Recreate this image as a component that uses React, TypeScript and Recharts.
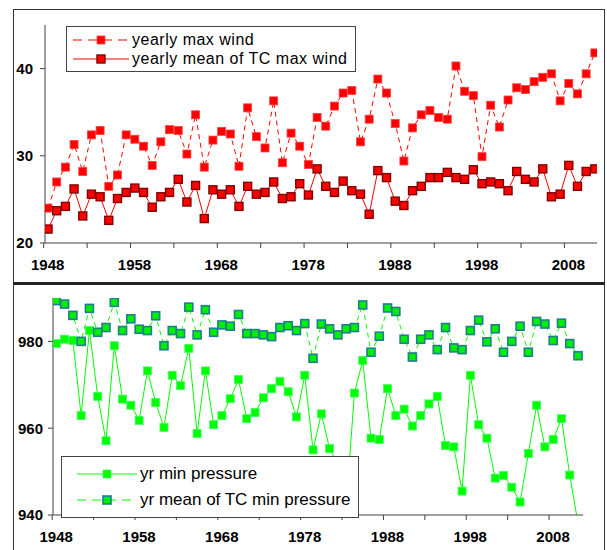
import {Legend, Line, LineChart, XAxis, YAxis} from 'recharts';

const years = [
  1948, 1949, 1950, 1951, 1952, 1953, 1954, 1955, 1956, 1957,
  1958, 1959, 1960, 1961, 1962, 1963, 1964, 1965, 1966, 1967,
  1968, 1969, 1970, 1971, 1972, 1973, 1974, 1975, 1976, 1977,
  1978, 1979, 1980, 1981, 1982, 1983, 1984, 1985, 1986, 1987,
  1988, 1989, 1990, 1991, 1992, 1993, 1994, 1995, 1996, 1997,
  1998, 1999, 2000, 2001, 2002, 2003, 2004, 2005, 2006, 2007,
  2008, 2009, 2010, 2011,
];

const maxWind = [
  24.0, 27.0, 28.7, 31.3, 28.2, 32.4, 32.9, 26.5, 27.8, 32.4,
  31.9, 31.1, 28.9, 31.6, 33.0, 32.9, 30.2, 34.7, 28.7, 31.8,
  32.8, 32.5, 28.8, 35.5, 32.2, 30.9, 36.3, 29.2, 32.6, 31.1,
  29.0, 34.4, 33.4, 35.7, 37.2, 37.5, 31.6, 34.2, 38.8, 37.2,
  33.7, 29.4, 33.2, 34.7, 35.2, 34.4, 34.2, 40.3, 37.4, 36.9,
  29.9, 35.8, 33.3, 36.4, 37.8, 37.6, 38.5, 39.0, 39.4, 36.3,
  38.3, 37.1, 39.4, 41.8,
];

const meanWind = [
  21.6, 23.7, 24.2, 26.2, 23.1, 25.6, 25.3, 22.6, 25.1, 25.8,
  26.3, 25.8, 24.1, 25.3, 25.8, 27.3, 24.7, 26.6, 22.8, 26.1,
  25.6, 26.1, 24.2, 26.5, 25.6, 25.8, 27.0, 25.1, 25.3, 26.8,
  25.5, 28.5, 26.5, 25.8, 27.1, 26.0, 25.6, 23.3, 28.3, 27.5,
  24.8, 24.3, 26.0, 26.5, 27.5, 27.5, 28.1, 27.5, 27.3, 28.4,
  26.8, 27.0, 26.8, 26.0, 28.2, 27.3, 27.0, 28.5, 25.3, 25.6,
  28.9, 26.5, 28.2, 28.5,
];

const minPressure = [
  979.5, 980.5, 980.2, 962.9, 982.5, 967.3, 957.1, 979.0, 966.7, 965.3,
  961.8, 973.2, 965.9, 960.2, 972.2, 969.8, 978.4, 958.8, 973.2, 960.8,
  962.9, 966.8, 971.2, 962.2, 963.6, 967.0, 969.1, 970.8, 968.4, 962.6,
  972.2, 955.0, 963.3, 955.3, 951.5, 942.0, 968.1, 975.6, 957.7, 957.4,
  969.1, 962.9, 964.4, 960.5, 962.9, 965.6, 967.3, 956.0, 955.7, 945.5,
  972.2, 960.8, 957.7, 948.5, 949.1, 946.4, 943.0, 954.2, 965.3, 955.7,
  957.4, 962.2, 949.2, 938.0,
];

const meanPressure = [
  989.4, 988.6, 986.0, 980.0, 987.6, 982.1, 983.2, 989.0, 982.5, 985.2,
  982.8, 982.5, 985.9, 979.0, 982.5, 981.8, 987.9, 981.5, 987.3, 982.1,
  983.8, 983.5, 986.2, 981.8, 981.8, 981.5, 981.1, 983.2, 983.6, 982.5,
  984.1, 976.1, 984.0, 982.9, 981.5, 982.9, 983.2, 988.4, 977.5, 981.2,
  987.7, 986.9, 980.5, 976.4, 980.5, 981.5, 978.1, 983.2, 978.5, 978.1,
  982.5, 984.9, 979.9, 982.9, 977.5, 980.0, 983.5, 977.5, 984.6, 984.0,
  980.2, 984.2, 979.5, 976.7,
];

const yearLabels = [1948, 1958, 1968, 1978, 1988, 1998, 2008];
const yearTickMarks = [1947.5, 1952.5, 1957.5, 1962.5, 1967.5, 1972.5, 1977.5, 1982.5, 1987.5, 1992.5, 1997.5, 2002.5, 2007.5];
const windTicks = [20, 30, 40];
const pressureTicks = [940, 960, 980];

const windRows = years.map((year, i) => ({year, maxWind: maxWind[i], meanWind: meanWind[i]}));
const pressureRows = years.map((year, i) => ({year, minPressure: minPressure[i], meanPressure: meanPressure[i]}));

const font = '"Liberation Sans", Arial, sans-serif';
const axisColor = '#404040';

function square(fill: string, stroke: string, strokeWidth: number) {
  return (props: any) => {
    const {cx, cy, index} = props;
    if (cx == null || cy == null) return <g key={index} />;
    return (
      <rect key={index} x={cx - 4} y={cy - 4} width={8} height={8}
            fill={fill} stroke={stroke} strokeWidth={strokeWidth} />
    );
  };
}

function YearTick(props: any) {
  const {x, y, payload} = props;
  const label = payload.value + 0.5;
  if (!yearLabels.includes(label)) return <g />;
  return (
    <text x={x + 4} y={y} dy={20} textAnchor="middle" fontFamily={font}
          fontSize={15} fontWeight="bold" fill="#000">
      {label}
    </text>
  );
}

interface LegendItem {
  label: string;
  color: string;
  dashed: boolean;
  fill: string;
  stroke: string;
  strokeWidth: number;
}

interface LegendBoxProps {
  items: LegendItem[];
  rowHeight: number;
  sampleWidth: number;
  padLeft: number;
  fontSize: number;
  letterSpacing: number;
  padY: number;
}

function LegendBox({items, rowHeight, sampleWidth, padLeft, fontSize, letterSpacing, padY}: LegendBoxProps) {
  return (
    <div style={{border: '1.5px solid #444', background: '#fff', padding: `${padY}px 8px ${padY}px ${padLeft}px`,
                 fontFamily: font, fontSize, letterSpacing, color: '#000'}}>
      {items.map((item) => (
        <div key={item.label} style={{display: 'flex', alignItems: 'center', height: rowHeight, whiteSpace: 'nowrap'}}>
          <svg width={sampleWidth} height={12} style={{marginRight: 3}}>
            <line x1={0} y1={6} x2={sampleWidth} y2={6} stroke={item.color} strokeWidth={1}
                  strokeDasharray={item.dashed ? '9 6' : undefined} />
            <rect x={sampleWidth / 2 - 4} y={2} width={8} height={8} fill={item.fill}
                  stroke={item.stroke} strokeWidth={item.strokeWidth} />
          </svg>
          <span style={{lineHeight: `${rowHeight}px`}}>{item.label}</span>
        </div>
      ))}
    </div>
  );
}

const windLegend: LegendItem[] = [
  {label: 'yearly max wind', color: '#ff0000', dashed: true, fill: '#ff0000', stroke: '#ff4040', strokeWidth: 0.8},
  {label: 'yearly mean of TC max wind', color: '#ff0000', dashed: false, fill: '#ff0000', stroke: '#800000', strokeWidth: 1.4},
];

const pressureLegend: LegendItem[] = [
  {label: 'yr min pressure', color: '#00ff00', dashed: false, fill: '#00ff00', stroke: '#40ff60', strokeWidth: 0.8},
  {label: 'yr mean of TC min pressure', color: '#00ff00', dashed: true, fill: '#00ee00', stroke: '#1f7f8f', strokeWidth: 1.6},
];

const yTickStyle = {fontFamily: font, fontSize: 15, fontWeight: 'bold', fill: '#000'};

export default function App() {
  return (
    <div style={{position: 'absolute', left: 0, top: 0, width: 607, height: 550, background: '#fff'}}>
      <div style={{position: 'absolute', left: 13, top: 9, width: 590, height: 545, border: '1.5px solid #333', borderBottom: 'none'}} />
      <div style={{position: 'absolute', left: 13, top: 282, width: 592, height: 3, background: '#222'}} />

      <div style={{position: 'absolute', left: 0, top: 0}}>
        <LineChart width={607} height={283} data={windRows} margin={{top: 25, right: 10, bottom: 10, left: 0}}>
          <XAxis dataKey="year" type="number" domain={[1947.65, 2011.25]} ticks={yearTickMarks} interval={0}
                 tick={<YearTick />} tickSize={5} height={30} allowDataOverflow
                 axisLine={{stroke: axisColor}} tickLine={{stroke: axisColor}} />
          <YAxis domain={[20, 45]} ticks={windTicks} width={45} tickSize={5} tickMargin={7} allowDataOverflow
                 tick={yTickStyle} axisLine={{stroke: axisColor}} tickLine={{stroke: axisColor}} />
          <Line dataKey="maxWind" stroke="#ff0000" strokeWidth={1} strokeDasharray="5 4"
                dot={square('#ff0000', '#ff4040', 0.8)} activeDot={false} isAnimationActive={false} />
          <Line dataKey="meanWind" stroke="#ff0000" strokeWidth={1}
                dot={square('#ff0000', '#800000', 1.4)} activeDot={false} isAnimationActive={false} />
          <Legend layout="vertical" align="center" verticalAlign="middle"
                  content={() => <LegendBox items={windLegend} rowHeight={19} sampleWidth={56} padLeft={6}
                                            fontSize={16} letterSpacing={0.5} padY={3} />}
                  wrapperStyle={{position: 'absolute', left: 66, top: 26, width: 'auto'}} />
        </LineChart>
      </div>

      <div style={{position: 'absolute', left: 0, top: 283}}>
        <LineChart width={607} height={267} data={pressureRows} margin={{top: 15, right: 24, bottom: 5, left: 0}}>
          <XAxis dataKey="year" type="number" domain={[1947.6, 2011.6]} ticks={yearTickMarks} interval={0}
                 tick={<YearTick />} tickSize={5} height={30} allowDataOverflow
                 axisLine={{stroke: axisColor}} tickLine={{stroke: axisColor}} />
          <YAxis domain={[940, 990]} ticks={pressureTicks} width={53} tickSize={5} tickMargin={5} allowDataOverflow
                 tick={yTickStyle} axisLine={{stroke: axisColor}} tickLine={{stroke: axisColor}} />
          <Line dataKey="minPressure" stroke="#00ff00" strokeWidth={1}
                dot={square('#00ff00', '#40ff60', 0.8)} activeDot={false} isAnimationActive={false} />
          <Line dataKey="meanPressure" stroke="#00ff00" strokeWidth={1} strokeDasharray="5 4"
                dot={square('#00ee00', '#1f7f8f', 1.6)} activeDot={false} isAnimationActive={false} />
          <Legend layout="vertical" align="center" verticalAlign="middle"
                  content={() => <LegendBox items={pressureLegend} rowHeight={26} sampleWidth={60} padLeft={15}
                                            fontSize={17} letterSpacing={0} padY={4} />}
                  wrapperStyle={{position: 'absolute', left: 61, top: 173, width: 'auto'}} />
        </LineChart>
      </div>
    </div>
  );
}
